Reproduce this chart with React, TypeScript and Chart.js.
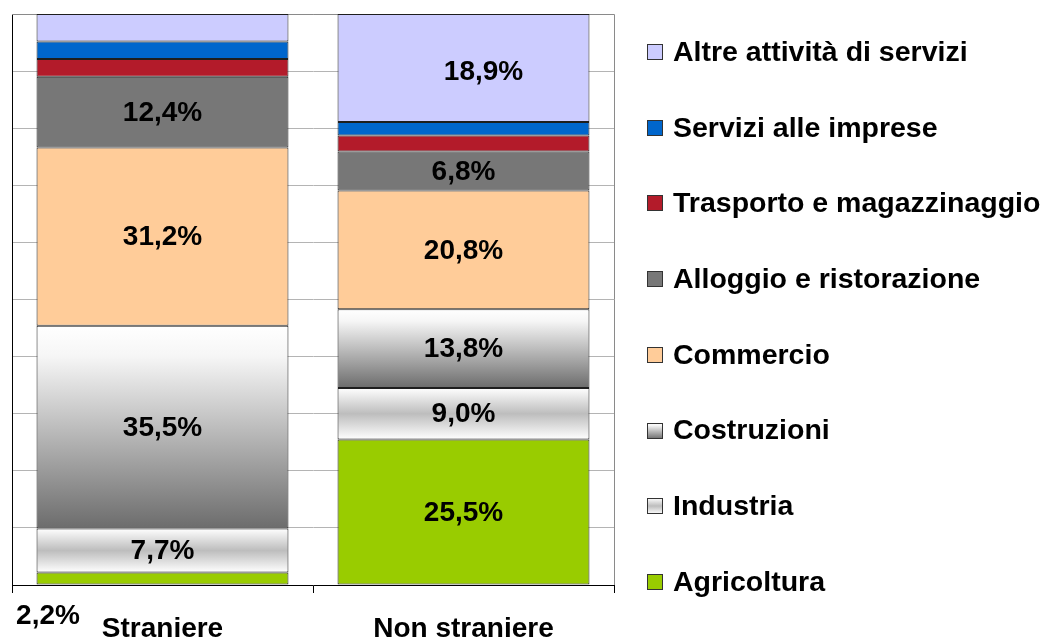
import React, { useEffect, useRef } from 'react';
import { Chart, registerables } from 'chart.js';

Chart.register(...registerables);

const categories = ['Straniere', 'Non straniere'];
const seriesNames = [
  'Agricoltura',
  'Industria',
  'Costruzioni',
  'Commercio',
  'Alloggio e ristorazione',
  'Trasporto e magazzinaggio',
  'Servizi alle imprese',
  'Altre attività di servizi',
];
const agricoltura = [2.2, 25.5];
const industria = [7.7, 9.0];
const costruzioni = [35.5, 13.8];
const commercio = [31.2, 20.8];
const alloggio = [12.4, 6.8];
const trasporto = [3.1, 2.8];
const servizi = [3.1, 2.4];
const altre = [4.8, 18.9];
const seriesValues = [agricoltura, industria, costruzioni, commercio, alloggio, trasporto, servizi, altre];

const FONT = '"Liberation Sans", Arial, sans-serif';
const solidColors = ['#99CC00', '#D0D0D0', '#A0A0A0', '#FFCC99', '#777777', '#B31B2A', '#0066CC', '#CCCCFF'];
const gradientKinds: (string | null)[] = [null, 'band', 'down', null, null, null, null, null];

function fillGradient(c: CanvasRenderingContext2D, kind: string, y0: number, y1: number) {
  const g = c.createLinearGradient(0, y0, 0, y1);
  if (kind === 'down') {
    g.addColorStop(0, '#FFFFFF');
    g.addColorStop(0.15, '#F6F6F6');
    g.addColorStop(1, '#6C6C6C');
  } else {
    g.addColorStop(0, '#FFFFFF');
    g.addColorStop(0.5, '#BDBDBD');
    g.addColorStop(1, '#FFFFFF');
  }
  return g;
}

function scriptedBg(d: number) {
  const kind = gradientKinds[d];
  if (!kind) return solidColors[d];
  return (ctx: any) => {
    const chart = ctx.chart;
    if (ctx.type !== 'data' || !chart.chartArea || !chart.scales.y) return solidColors[d];
    const i = ctx.dataIndex;
    let start = 0;
    for (let k = 0; k < d; k++) start += chart.data.datasets[k].data[i];
    const end = start + chart.data.datasets[d].data[i];
    const y0 = chart.scales.y.getPixelForValue(end);
    const y1 = chart.scales.y.getPixelForValue(start);
    return fillGradient(chart.ctx, kind, y0, y1);
  };
}

const fmt = (v: number) => v.toFixed(1).replace('.', ',') + '%';

const labelOffsets: Record<string, [number, number]> = { '7-1': [20, 3] };

const plotBorder = {
  id: 'plotBorder',
  beforeDatasetsDraw(chart: any) {
    const { ctx, chartArea: a } = chart;
    ctx.save();
    ctx.strokeStyle = '#8a8a8a';
    ctx.lineWidth = 1;
    ctx.beginPath();
    ctx.moveTo(a.left, a.top + 0.5);
    ctx.lineTo(a.right + 0.5, a.top + 0.5);
    ctx.lineTo(a.right + 0.5, a.bottom);
    ctx.stroke();
    ctx.restore();
  },
};

const segLabels = {
  id: 'segLabels',
  afterDatasetsDraw(chart: any) {
    const c = chart.ctx;
    c.save();
    c.font = `bold 28px ${FONT}`;
    c.fillStyle = '#000';
    c.textAlign = 'center';
    c.textBaseline = 'middle';
    chart.data.datasets.forEach((ds: any, d: number) => {
      const meta = chart.getDatasetMeta(d);
      meta.data.forEach((bar: any, i: number) => {
        const v = ds.data[i];
        const { x, y, base } = bar.getProps(['x', 'y', 'base'], true);
        if (v >= 5) {
          const [dx, dy] = labelOffsets[`${d}-${i}`] || [0, 0];
          c.fillText(fmt(v), x + dx, (y + base) / 2 + 1 + dy);
        } else if (d === 0) {
          c.fillText(fmt(v), chart.chartArea.left + 36, chart.chartArea.bottom + 31);
        }
      });
    });
    c.restore();
  },
};

const sideLegend = {
  id: 'sideLegend',
  afterDraw(chart: any) {
    const c = chart.ctx;
    const ds = chart.data.datasets;
    const n = ds.length;
    const boxX = 647;
    const size = 16;
    const top = 52;
    const step = 75.7;
    c.save();
    c.font = `bold 28.5px ${FONT}`;
    c.textBaseline = 'middle';
    c.textAlign = 'left';
    for (let k = 0; k < n; k++) {
      const d = n - 1 - k;
      const yc = top + k * step;
      const by = Math.round(yc - size / 2);
      const kind = gradientKinds[d];
      c.fillStyle = kind ? fillGradient(c, kind, by, by + size) : solidColors[d];
      c.fillRect(boxX, by, size, size);
      c.strokeStyle = '#333';
      c.lineWidth = 1;
      c.strokeRect(boxX + 0.5, by + 0.5, size - 1, size - 1);
      c.fillStyle = '#000';
      c.fillText(ds[d].label, 673, yc + 1);
    }
    c.restore();
  },
};

export default function App() {
  const ref = useRef<HTMLCanvasElement | null>(null);
  useEffect(() => {
    document.body.style.margin = '0';
    const chart = new Chart(ref.current as HTMLCanvasElement, {
      type: 'bar',
      data: {
        labels: categories,
        datasets: seriesNames.map((name, d) => ({
          label: name,
          data: seriesValues[d],
          backgroundColor: scriptedBg(d) as any,
          borderColor: '#1e1e1e',
          borderWidth: 1,
          borderSkipped: false,
          categoryPercentage: 1,
          barPercentage: 0.837,
        })),
      },
      options: {
        responsive: false,
        animation: false,
        layout: { padding: { top: 14, left: 12, right: 436, bottom: 0 } },
        plugins: { legend: { display: false }, tooltip: { enabled: false } },
        scales: {
          x: {
            stacked: true,
            grid: { offset: true, drawOnChartArea: false, drawTicks: true, tickLength: 8, color: '#000' },
            border: { color: '#000' },
            ticks: { color: '#000', font: { family: FONT, size: 28, weight: 'bold' }, padding: 19 },
            afterFit: (s: any) => { s.height = 54; },
          },
          y: {
            stacked: true,
            min: 0,
            max: 100,
            ticks: { display: false, stepSize: 10 },
            grid: { color: '#b4b4b4', drawTicks: false },
            border: { color: '#000' },
            afterFit: (s: any) => { s.width = 0; },
          },
        },
      },
      plugins: [plotBorder, segLabels, sideLegend],
    });
    return () => chart.destroy();
  }, []);
  return (
    <div style={{ width: 1050, height: 639 }}>
      <canvas ref={ref} width={1050} height={639} style={{ display: 'block' }} />
    </div>
  );
}
